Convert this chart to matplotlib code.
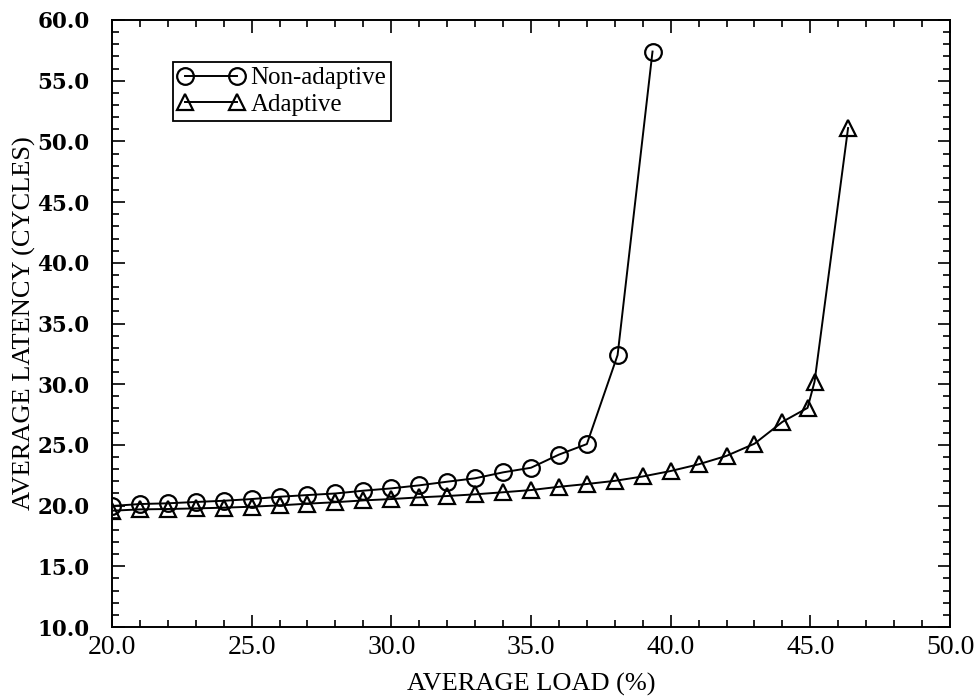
import matplotlib
matplotlib.use("Agg")
import matplotlib.pyplot as plt
from matplotlib.ticker import MultipleLocator, FormatStrFormatter

# Average load (%) vs. average latency (cycles)
load_nonadaptive = [20, 21, 22, 23, 24, 25, 26, 27, 28, 29, 30, 31, 32, 33,
                    34, 35, 36, 37, 38.1, 39.35]
lat_nonadaptive = [19.97, 20.13, 20.19, 20.3, 20.4, 20.54, 20.73, 20.87, 21.0,
                   21.23, 21.42, 21.67, 21.97, 22.25, 22.74, 23.12, 24.2,
                   25.07, 32.4, 57.4]

load_adaptive = [20, 21, 22, 23, 24, 25, 26, 27, 28, 29, 30, 31, 32, 33, 34,
                 35, 36, 37, 38, 39, 40, 41, 42, 43, 44, 44.9, 45.15, 46.35]
lat_adaptive = [19.58, 19.69, 19.72, 19.77, 19.83, 19.91, 20.02, 20.16, 20.28,
                20.43, 20.54, 20.68, 20.79, 20.93, 21.1, 21.28, 21.55, 21.78,
                22.04, 22.4, 22.85, 23.4, 24.1, 25.1, 26.9, 28.05, 30.2, 51.1]

series_labels = ["Non-adaptive", "Adaptive"]

serif = ["Liberation Serif", "DejaVu Serif"]

fig = plt.figure(figsize=(9.75, 6.96), dpi=100)
ax = fig.add_axes([0.1148, 0.0991, 0.8596, 0.8722])

common = dict(color="black", linewidth=1.4, markerfacecolor="none",
              markeredgecolor="black", markeredgewidth=1.6)
ax.plot(load_nonadaptive, lat_nonadaptive, marker="o", markersize=12,
        label=series_labels[0], **common)
ax.plot(load_adaptive, lat_adaptive, marker="^", markersize=12,
        label=series_labels[1], **common)

ax.set_xlim(20, 50)
ax.set_ylim(10, 60)
ax.xaxis.set_major_locator(MultipleLocator(5))
ax.xaxis.set_minor_locator(MultipleLocator(1))
ax.yaxis.set_major_locator(MultipleLocator(5))
ax.yaxis.set_minor_locator(MultipleLocator(1))
ax.xaxis.set_major_formatter(FormatStrFormatter("%.1f"))
ax.yaxis.set_major_formatter(FormatStrFormatter("%.1f"))

ax.tick_params(which="both", direction="in", top=True, right=True,
               width=1.2, colors="black")
ax.tick_params(which="major", length=9)
ax.tick_params(which="minor", length=5)
ax.tick_params(axis="x", which="major", pad=6)
ax.tick_params(axis="y", which="major", pad=16)

for lab in ax.get_xticklabels():
    lab.set_family(serif)
    lab.set_fontsize(20)
for lab in ax.get_yticklabels():
    lab.set_family(["DejaVu Serif"])
    lab.set_fontweight("bold")
    lab.set_fontsize(15.5)

for sp in ax.spines.values():
    sp.set_linewidth(1.4)
    sp.set_color("black")

ax.set_xlabel("AVERAGE LOAD (%)", family=serif, fontsize=19, labelpad=9)
ax.set_ylabel("AVERAGE LATENCY (CYCLES)", family=serif, fontsize=19)
ax.yaxis.set_label_coords(-0.091, 0.5)

leg = ax.legend(loc="upper left", bbox_to_anchor=(0.0726, 0.931),
                borderaxespad=0, numpoints=2, handlelength=2.65,
                handletextpad=0.25, borderpad=0.2, labelspacing=0.15,
                fancybox=False, framealpha=1, edgecolor="black",
                prop={"family": serif, "size": 18})
leg.get_frame().set_linewidth(1.3)

fig.savefig("out.png", dpi=100)
